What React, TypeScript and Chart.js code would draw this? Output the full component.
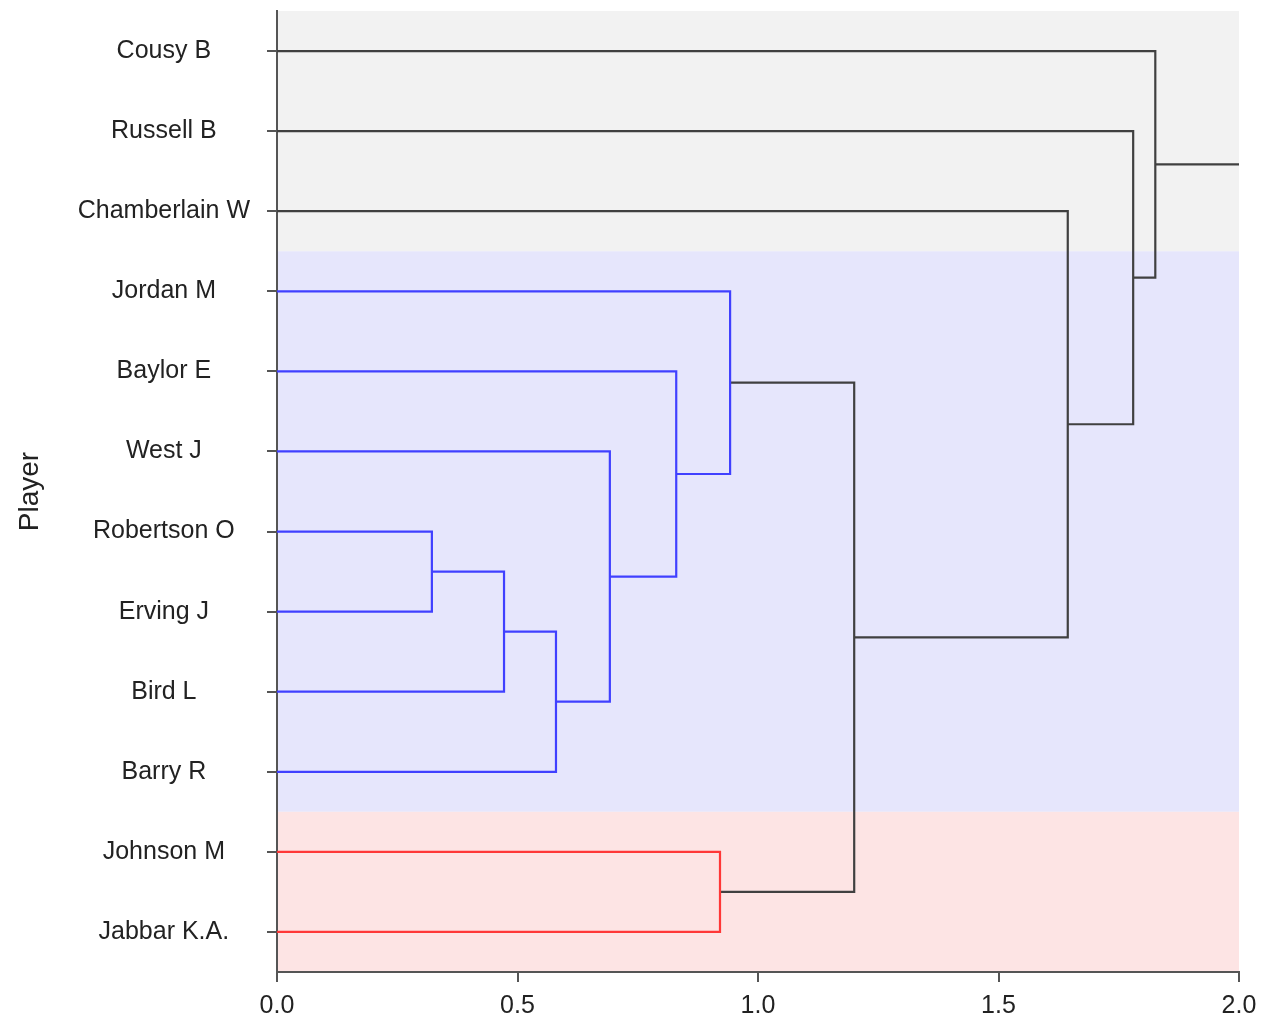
import React, { useEffect, useRef } from 'react';
import { Chart, registerables } from 'chart.js';

Chart.register(...registerables);

// ---- data ----
const players = [
  'Cousy B',
  'Russell B',
  'Chamberlain W',
  'Jordan M',
  'Baylor E',
  'West J',
  'Robertson O',
  'Erving J',
  'Bird L',
  'Barry R',
  'Johnson M',
  'Jabbar K.A.',
];
// cluster membership of each leaf (0 = gray, 1 = blue, 2 = red)
const leafCluster = [0, 0, 0, 1, 1, 1, 1, 1, 1, 1, 2, 2];
// merges: node ids < 12 are leaves, node 12 + k is merge k
const mergeLeft = [6, 12, 13, 5, 4, 3, 10, 17, 2, 1, 0];
const mergeRight = [7, 8, 9, 14, 15, 16, 11, 18, 19, 20, 21];
const mergeHeight = [0.322, 0.472, 0.58, 0.692, 0.83, 0.942, 0.921, 1.2, 1.644, 1.78, 1.826];
const mergeGroup = ['blue', 'blue', 'blue', 'blue', 'blue', 'blue', 'red', 'black', 'black', 'black', 'black'];
const xTicks = [0, 0.5, 1.0, 1.5, 2.0];
const xMax = 2.0;

// ---- styles ----
const bandColors = ['#f2f2f2', '#e6e6fc', '#fde4e4'];
const lineColors: Record<string, string> = {
  blue: 'rgb(64,64,255)',
  red: 'rgb(255,55,55)',
  black: '#404040',
};
const FONT = "'Liberation Sans', Arial, sans-serif";

function buildDatasets() {
  const n = players.length;
  const nodeY: number[] = players.map((_, i) => i);
  const nodeH: number[] = players.map(() => 0);
  const datasets: any[] = [];
  mergeHeight.forEach((h, k) => {
    const l = mergeLeft[k];
    const r = mergeRight[k];
    const yl = nodeY[l];
    const yr = nodeY[r];
    nodeY[n + k] = (yl + yr) / 2;
    nodeH[n + k] = h;
    datasets.push({
      data: [
        { x: nodeH[l], y: yl },
        { x: h, y: yl },
        { x: h, y: yr },
        { x: nodeH[r], y: yr },
      ],
      borderColor: lineColors[mergeGroup[k]],
    });
  });
  const root = n + mergeHeight.length - 1;
  datasets.push({
    data: [
      { x: nodeH[root], y: nodeY[root] },
      { x: xMax, y: nodeY[root] },
    ],
    borderColor: lineColors.black,
  });
  return datasets.map((d) => ({
    ...d,
    showLine: true,
    pointRadius: 0,
    borderWidth: 2.2,
    fill: false,
    tension: 0,
    borderJoinStyle: 'miter',
    borderCapStyle: 'butt',
  }));
}

const bandPlugin = {
  id: 'clusterBands',
  beforeDraw(chart: any) {
    const { ctx, scales } = chart;
    const x = scales.x;
    const y = scales.y;
    const groups = Array.from(new Set(leafCluster));
    ctx.save();
    groups.forEach((g) => {
      const idx = leafCluster.map((c, i) => (c === g ? i : -1)).filter((i) => i >= 0);
      const lo = Math.min(...idx) - 0.5;
      const hi = Math.max(...idx) + 0.5;
      const top = y.getPixelForValue(lo);
      const bottom = y.getPixelForValue(hi);
      const left = x.getPixelForValue(0);
      const right = x.getPixelForValue(xMax);
      ctx.fillStyle = bandColors[g];
      ctx.fillRect(left, Math.min(top, bottom), right - left, Math.abs(bottom - top));
    });
    ctx.restore();
  },
};

export default function App() {
  const ref = useRef<HTMLCanvasElement | null>(null);
  useEffect(() => {
    if (!ref.current) return;
    const chart = new Chart(ref.current, {
      type: 'scatter',
      data: { datasets: buildDatasets() },
      options: {
        animation: false,
        responsive: false,
        devicePixelRatio: 1,
        layout: { padding: { top: 11, right: 24, left: 0, bottom: 0 } },
        plugins: { legend: { display: false }, tooltip: { enabled: false } },
        scales: {
          x: {
            type: 'linear',
            min: 0,
            max: xMax,
            afterBuildTicks: (axis: any) => {
              axis.ticks = xTicks.map((v) => ({ value: v }));
            },
            afterFit: (axis: any) => {
              axis.height = 48;
              axis.paddingLeft = 0;
              axis.paddingRight = 0;
            },
            grid: { drawOnChartArea: false, drawTicks: true, tickLength: 10, color: '#555', lineWidth: 2 },
            border: { display: true, color: '#555', width: 2 },
            ticks: {
              padding: 9,
              color: '#222',
              font: { family: FONT, size: 25 },
              callback: (v: any) => Number(v).toFixed(1),
            },
          },
          y: {
            type: 'linear',
            reverse: true,
            min: -0.5,
            max: players.length - 0.5,
            afterBuildTicks: (axis: any) => {
              axis.ticks = players.map((_, i) => ({ value: i }));
            },
            afterFit: (axis: any) => {
              axis.width = 277;
              axis.paddingTop = 0;
              axis.paddingBottom = 0;
            },
            grid: { drawOnChartArea: false, drawTicks: true, tickLength: 10, color: '#555', lineWidth: 2 },
            border: { display: true, color: '#555', width: 2 },
            title: {
              display: true,
              text: 'Player',
              color: '#222',
              font: { family: FONT, size: 28 },
              padding: { top: 13, bottom: 0 },
            },
            ticks: {
              autoSkip: false,
              crossAlign: 'center',
              padding: 17,
              color: '#222',
              font: { family: FONT, size: 25 },
              callback: (v: any) => players[Math.round(Number(v))] ?? '',
            },
          },
        },
      },
      plugins: [bandPlugin],
    } as any);
    return () => chart.destroy();
  }, []);
  return (
    <div style={{ position: 'absolute', left: 0, top: 0, width: 1263, height: 1020 }}>
      <canvas ref={ref} width={1263} height={1020} />
    </div>
  );
}
